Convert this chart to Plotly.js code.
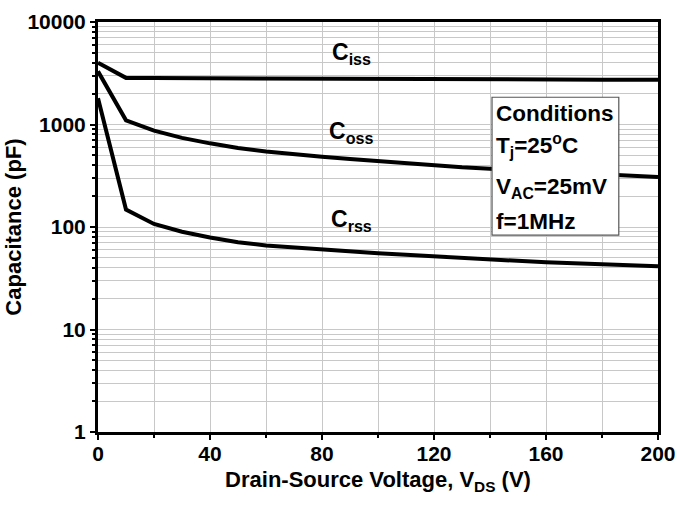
<!DOCTYPE html>
<html>
<head>
<meta charset="utf-8">
<script src="https://cdn.plot.ly/plotly-3.0.1.min.js"></script>
<style>
  html, body { margin: 0; padding: 0; background: #fff; }
  #chart { width: 680px; height: 507px; }
</style>
</head>
<body>
<div id="chart"></div>
<script>
// Drain-source voltage sweep (V)
const vds = [0, 10, 20, 30, 40, 50, 60, 70, 80, 90, 100, 110, 120, 130, 140, 150, 160, 170, 180, 190, 200];

// Capacitances (pF)
const ciss = [4000, 2850, 2840, 2830, 2820, 2810, 2800, 2795, 2790, 2785, 2780, 2775, 2770, 2765, 2760, 2755, 2750, 2745, 2740, 2735, 2730];
const coss = [3300, 1100, 870, 740, 655, 590, 545, 510, 485, 460, 437, 416, 397, 382, 370, 358, 347, 337, 327, 318, 308];
const crss = [1800, 148, 107, 90, 79, 71, 66, 63, 61, 58, 55.6, 53.5, 51.6, 49.5, 48, 46.5, 45.2, 44.2, 43.2, 42.3, 41.5];

const xTicks = [0, 40, 80, 120, 160, 200];
const yTicks = [1, 10, 100, 1000, 10000];

const conditions = ['Conditions', 'T<sub>j</sub>=25<sup>o</sup>C', 'V<sub>AC</sub>=25mV', 'f=1MHz'];

const lineStyle = { color: '#000', width: 4 };
const mkTrace = (y, name) => ({
  x: vds, y: y, name: name, type: 'scatter', mode: 'lines',
  line: lineStyle, hoverinfo: 'skip', showlegend: false
});

const traces = [mkTrace(ciss, 'Ciss'), mkTrace(coss, 'Coss'), mkTrace(crss, 'Crss')];

const FONT = 'Liberation Sans, Arial, sans-serif';
const boldFont = (size) => ({ family: FONT, size: size, color: '#000', weight: 'bold' });

// curve labels and the conditions panel
const annotations = [
  { text: 'C<sub>iss</sub>', x: 0.452, y: 0.922 },
  { text: 'C<sub>oss</sub>', x: 0.452, y: 0.730 },
  { text: 'C<sub>rss</sub>', x: 0.452, y: 0.516 }
].map(a => ({
  xref: 'paper', yref: 'paper', x: a.x, y: a.y, text: a.text,
  showarrow: false, xanchor: 'center', yanchor: 'middle', font: boldFont(23)
}));

const condY = [0.7775, 0.6995, 0.5947, 0.5128];
conditions.forEach((t, i) => {
  annotations.push({
    xref: 'paper', yref: 'paper', x: 0.707, y: condY[i], text: t,
    showarrow: false, xanchor: 'left', yanchor: 'middle', font: boldFont(22.5)
  });
});

const layout = {
  width: 680, height: 507,
  margin: { l: 98, r: 22, t: 22, b: 75 },
  paper_bgcolor: '#fff', plot_bgcolor: '#fff',
  font: { family: FONT, color: '#000' },
  showlegend: false,
  xaxis: {
    type: 'linear', range: [0, 200],
    tickvals: xTicks, ticktext: xTicks.map(String),
    ticks: 'outside', ticklen: 5, tickwidth: 2, tickcolor: '#000',
    ticklabelstandoff: -4,
    showline: true, linewidth: 3, linecolor: '#000', mirror: true,
    showgrid: true, gridcolor: '#c8c8c8', gridwidth: 1,
    zeroline: false,
    minor: { dtick: 20, ticks: 'outside', ticklen: 3, tickwidth: 2, tickcolor: '#000', showgrid: true, gridcolor: '#c8c8c8', gridwidth: 1 },
    tickfont: boldFont(21),
    title: { text: 'Drain-Source Voltage, V<sub>DS</sub> (V)', font: boldFont(22), standoff: 8 }
  },
  yaxis: {
    type: 'log', range: [0, 4],
    tickvals: yTicks, ticktext: yTicks.map(String),
    ticks: 'outside', ticklen: 5, tickwidth: 2, tickcolor: '#000',
    showline: true, linewidth: 3, linecolor: '#000', mirror: true,
    showgrid: true, gridcolor: '#c8c8c8', gridwidth: 1,
    zeroline: false,
    minor: { dtick: 'D1', ticks: 'outside', ticklen: 3, tickwidth: 2, tickcolor: '#000', showgrid: true, gridcolor: '#c8c8c8', gridwidth: 1 },
    tickfont: boldFont(21),
    title: { text: 'Capacitance (pF)', font: boldFont(22), standoff: 0 }
  },
  shapes: [{
    type: 'rect', xref: 'paper', yref: 'paper',
    x0: 0.7036, x1: 0.930, y0: 0.480, y1: 0.8165,
    line: { color: '#555', width: 1.2 }, fillcolor: '#fff', layer: 'above'
  }],
  annotations: annotations
};

Plotly.newPlot('chart', traces, layout, { staticPlot: true, displayModeBar: false });
</script>
</body>
</html>
